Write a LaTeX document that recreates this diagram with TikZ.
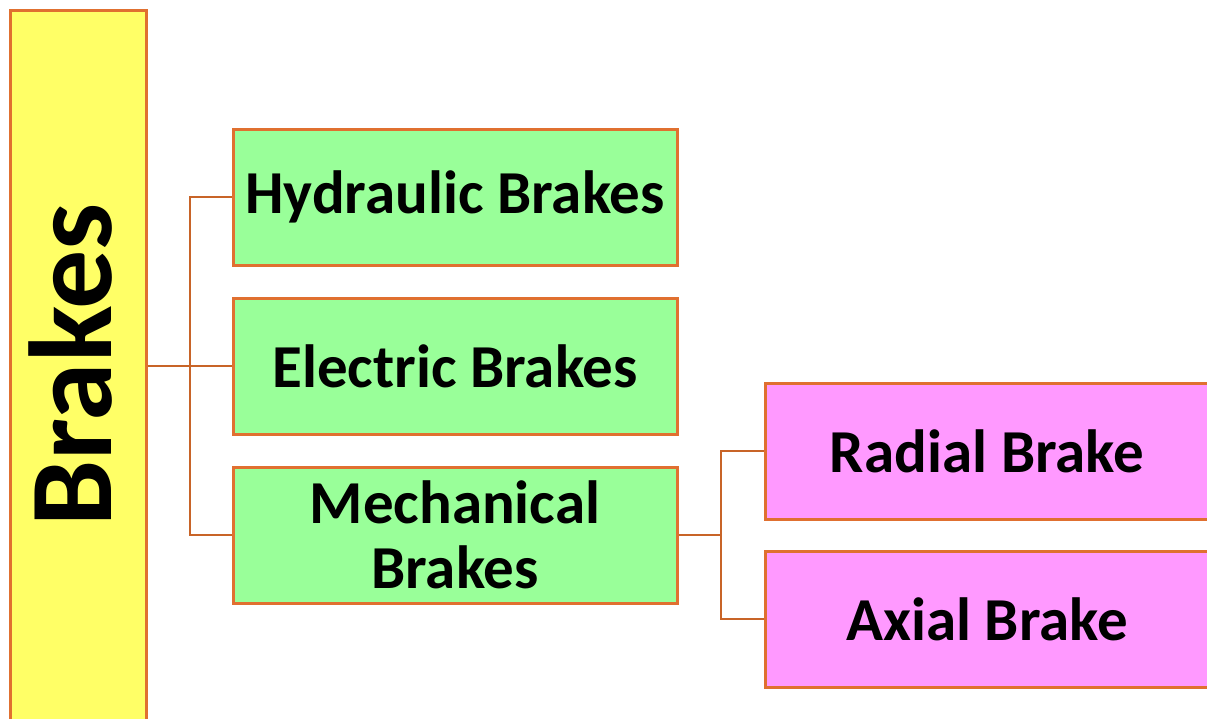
\documentclass[tikz,border=0pt]{standalone}
\usepackage{fontspec}
\setmainfont{Carlito}
\definecolor{byellow}{HTML}{FFFF66}
\definecolor{bgreen}{HTML}{99FF99}
\definecolor{bpink}{HTML}{FF99FF}
\definecolor{bborder}{HTML}{E07030}
\definecolor{bline}{HTML}{C86428}
\begin{document}
\begin{tikzpicture}[x=1pt,y=-1pt,
  box/.style={draw=bborder,line width=3pt,rectangle,inner sep=0pt,
    font=\fontsize{61}{65}\selectfont\bfseries,align=center},
  conn/.style={draw=bline,line width=2.5pt}]
\useasboundingbox (0,0) rectangle (1207,718);
\clip (0,0) rectangle (1207,718);
\node[box,fill=byellow,minimum width=136pt,minimum height=760pt] (Y) at (78,390) {};
\node[rotate=90,font=\fontsize{118}{122}\selectfont\bfseries] (Yt) at (71,365) {Brakes};
\node[box,fill=bgreen,minimum width=444pt,minimum height=136pt] (H) at (455,197) {Hydraulic Brakes};
\node[box,fill=bgreen,minimum width=444pt,minimum height=136pt] (E) at (455,366) {Electric Brakes};
\node[box,fill=bgreen,minimum width=444pt,minimum height=136pt] (M) at (455,535) {Mechanical\\Brakes};
\node[box,fill=bpink,minimum width=444pt,minimum height=136pt] (R) at (987,451) {Radial Brake};
\node[box,fill=bpink,minimum width=444pt,minimum height=136pt] (A) at (987,619) {Axial Brake};
\coordinate (j1) at (190,366);
\coordinate (j2) at (721,535);
\draw[conn] (Y.east |- E.west) -- (E.west);
\draw[conn] (H.west) -| (j1) |- (M.west);
\draw[conn] (M.east) -- (j2);
\draw[conn] (R.west) -| (j2) |- (A.west);
\end{tikzpicture}
\end{document}
